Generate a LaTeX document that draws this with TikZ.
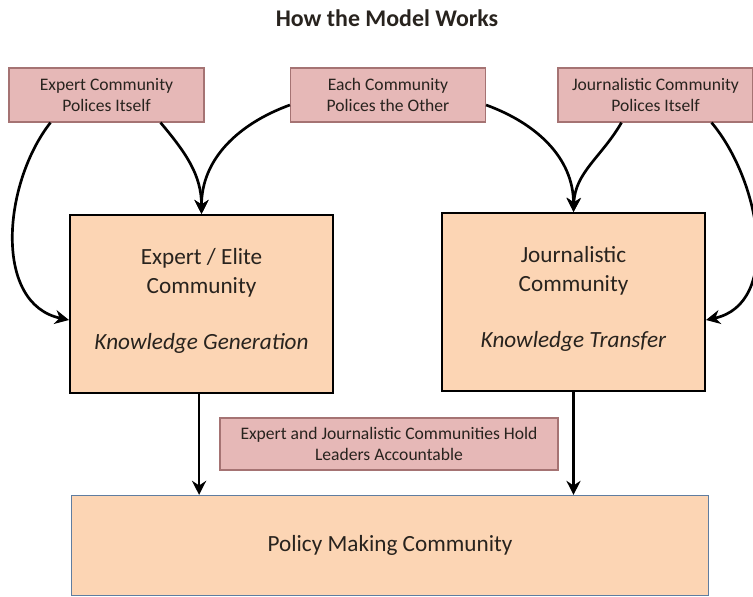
\documentclass[tikz,border=0pt]{standalone}
\usepackage{fontspec}
\setmainfont{Carlito}
\usetikzlibrary{arrows.meta}
\definecolor{polfill}{RGB}{230,184,183}
\definecolor{poldraw}{RGB}{165,115,115}
\definecolor{comfill}{RGB}{252,213,180}
\definecolor{mkdraw}{RGB}{95,125,160}
\definecolor{txt}{RGB}{40,35,30}
\tikzset{
  police/.style={draw=poldraw, fill=polfill, line width=0.8pt, align=center,
    minimum width=4.875cm, minimum height=1.35cm, text=txt,
    font=\fontsize{12.5}{14.5}\selectfont},
  community/.style={draw=black, fill=comfill, line width=1.4pt, align=center,
    minimum width=6.575cm, minimum height=4.45cm, text=txt,
    font=\fontsize{16.5}{20}\selectfont},
  arr/.style={line width=1.9pt, -{Stealth[length=10pt,width=10pt]}}
}
\begin{document}
\begin{tikzpicture}[x=0.025cm, y=-0.025cm]
  \useasboundingbox (0,0) rectangle (753,596);
  \node[font=\fontsize{17}{20}\bfseries, text=txt] (title) at (387,18) {How the Model Works};
  % policing boxes
  \node[police] (selfexp) at (106.5,95) {Expert Community\\Polices Itself};
  \node[police] (other) at (388,95) {Each Community\\Polices the Other};
  \node[police] (selfjou) at (655.5,95) {Journalistic Community\\Polices Itself};
  % communities
  \node[community] (expert) at (201.5,304)
    {Expert / Elite\\Community\\[20pt]\textit{Knowledge Generation}\\[-13pt]\mbox{}};
  \node[community] (journal) at (573.5,302)
    {Journalistic\\Community\\[20pt]\textit{Knowledge Transfer}\\[-13pt]\mbox{}};
  \node[police, minimum width=8.45cm, minimum height=1.3cm] (account) at (389,444)
    {Expert and Journalistic Communities Hold\\Leaders Accountable};
  \node[draw=mkdraw, fill=comfill, line width=0.8pt, minimum width=15.9cm,
    minimum height=2.5cm, text=txt, font=\fontsize{16.5}{20}\selectfont]
    (policy) at (390,545.5) {Policy Making Community};
  % arrows
  \draw[arr] ([xshift=-1.4cm]selfexp.south) to[out=232, in=168] ([yshift=-0.4cm]expert.west);
  \draw[arr] ([xshift=1.35cm]selfexp.south) to[out=-50, in=90] (expert.north);
  \draw[arr] ([yshift=-0.25cm]other.west) to[out=200, in=90] (expert.north);
  \draw[arr] ([yshift=-0.25cm]other.east) to[out=-20, in=90] (journal.north);
  \draw[arr] ([xshift=-0.85cm]selfjou.south) to[out=240, in=88] (journal.north);
  \draw[arr] ([xshift=1.4cm]selfjou.south) to[out=-50, in=12] ([yshift=-0.45cm]journal.east);
  \draw[arr] ([xshift=-0.06cm]expert.south) -- ([xshift=-0.06cm]expert.south |- policy.north);
  \draw[arr] (journal.south) -- (journal.south |- policy.north);
\end{tikzpicture}
\end{document}
